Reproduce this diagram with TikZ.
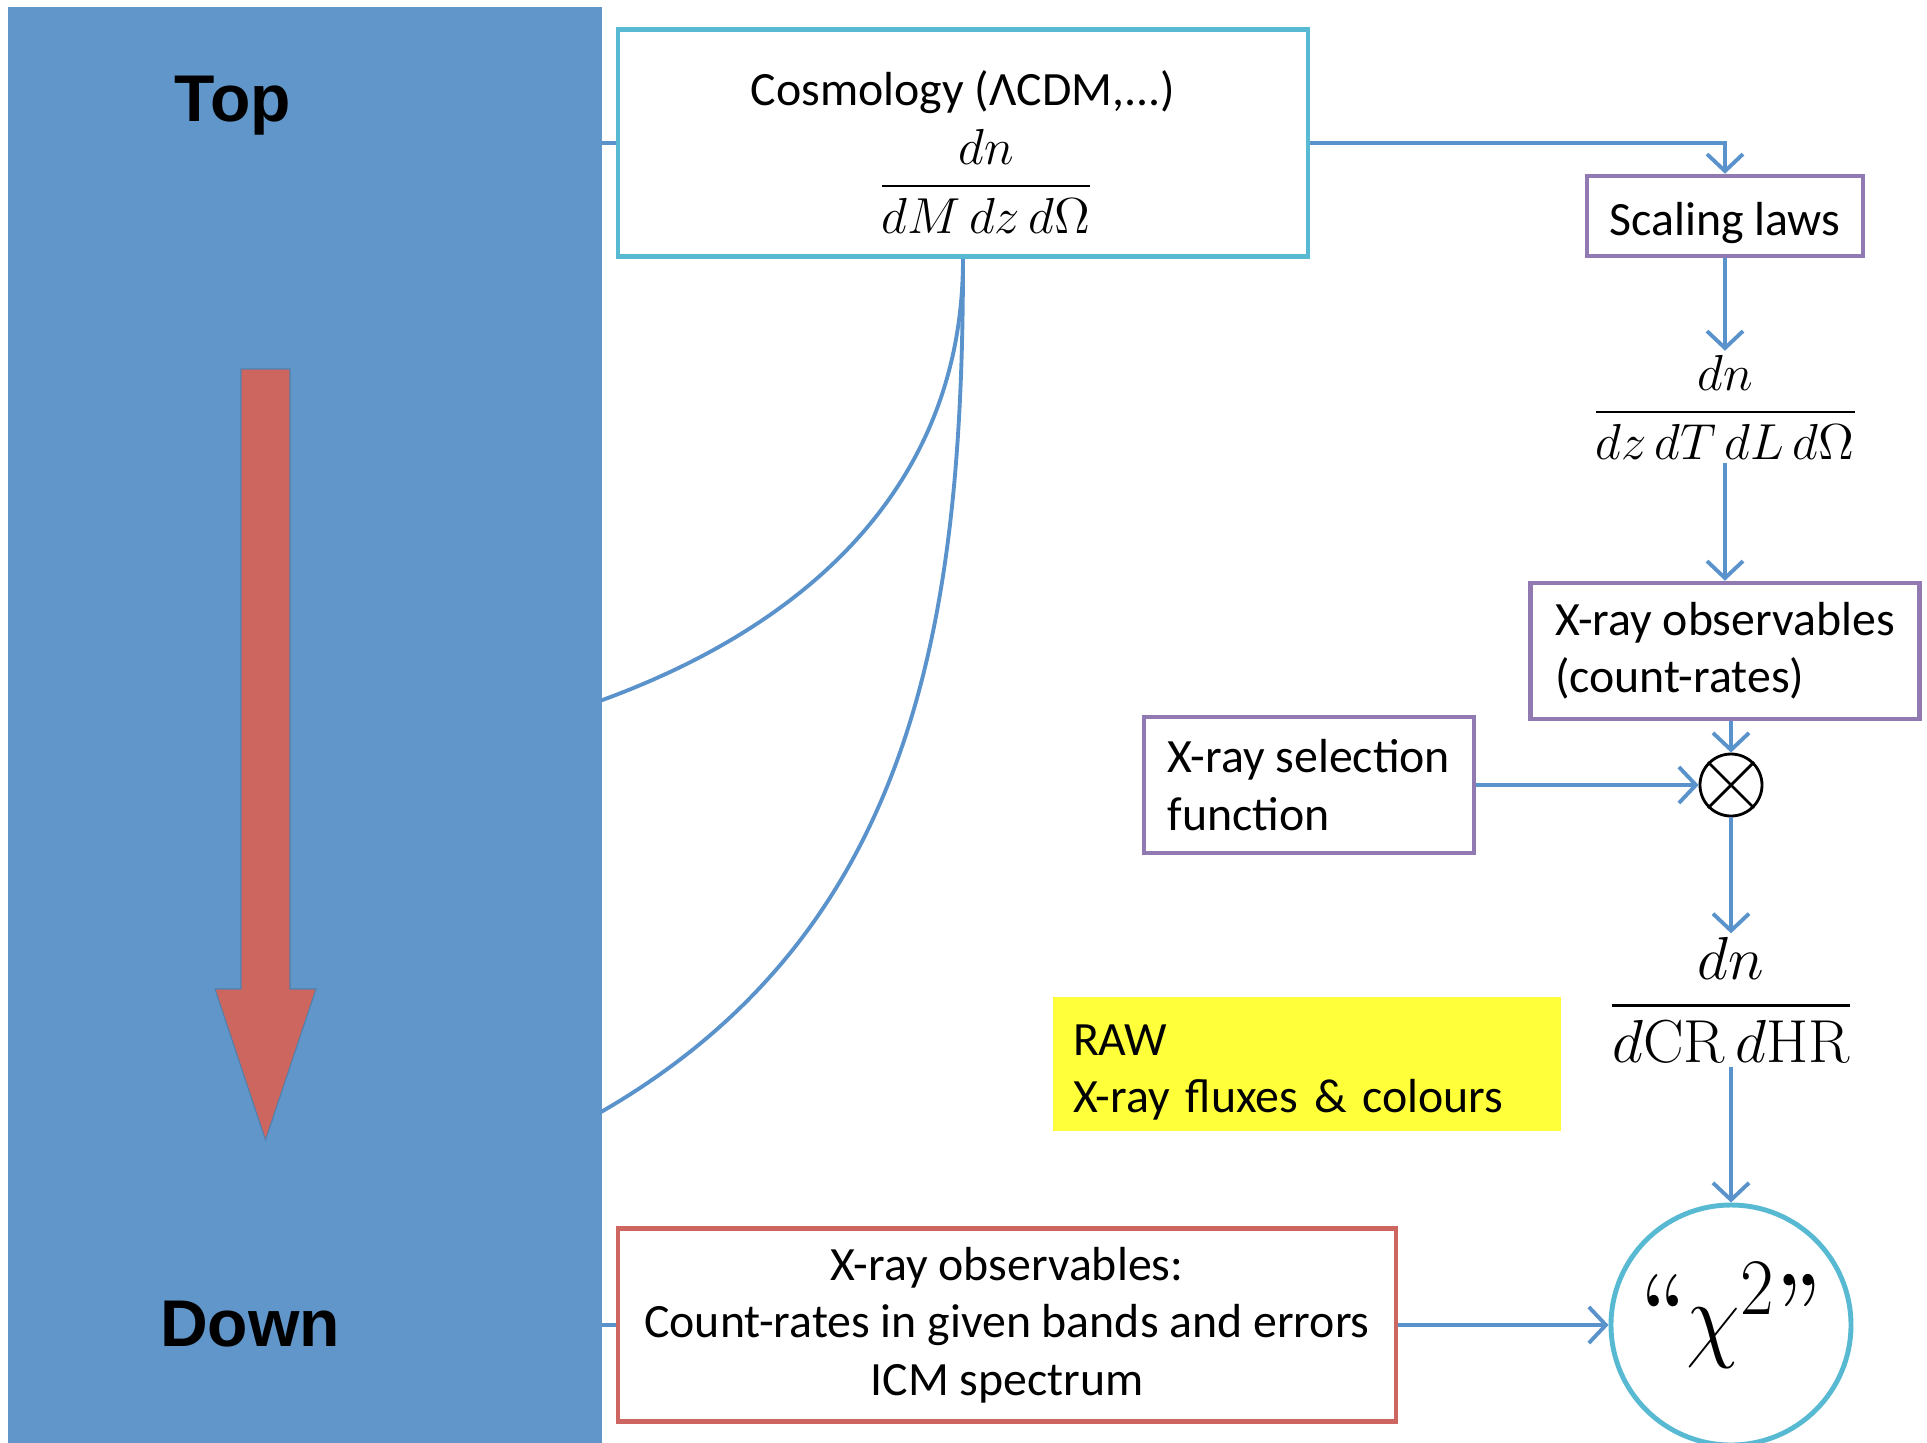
\documentclass[tikz,border=0pt]{standalone}
\usepackage[no-math]{fontspec}
\usepackage{amsmath}
\setmainfont{Carlito}
\newfontfamily\headfont{Liberation Sans}
\newfontfamily\lmquote{lmroman10-regular.otf}
\usetikzlibrary{positioning, arrows.meta, calc}

\definecolor{bandblue}{RGB}{96,150,201}
\definecolor{linkblue}{RGB}{90,146,204}
\definecolor{cosmocyan}{RGB}{88,185,210}
\definecolor{boxpurple}{RGB}{145,121,177}
\definecolor{obsred}{RGB}{205,101,96}
\definecolor{arrowred}{RGB}{204,102,95}
\definecolor{rawyellow}{RGB}{255,255,58}

\begin{document}
\begin{tikzpicture}[
    link/.style={draw=linkblue, line width=1.1pt},
    arr/.style={link, -{Straight Barb[length=1.7mm, width=3.6mm]}},
    box/.style={draw, line width=1.3pt, inner sep=0pt, font=\fontsize{13.6}{16.3}\selectfont,
      execute at begin node={\rule{0pt}{13.4pt}}},
    head/.style={font=\headfont\bfseries\fontsize{18.8}{22}\selectfont, inner sep=0pt},
    mathlbl/.style={inner sep=1pt}]
      \useasboundingbox (0,0) rectangle (19.27,-14.42);

      % top-down band
      \node[fill=bandblue, minimum width=5.94cm, minimum height=14.36cm, inner sep=0pt, anchor=north west] (band) at (0.07,-0.06) {};
      \node[head] (top) at (2.33,-1.06) {Top};
      \node[head] (down) at (2.50,-13.24) {Down};
      \filldraw[fill=arrowred, draw=bandblue!85!black, line width=0.3pt]
        (2.41,-3.69) -- (2.90,-3.69) -- (2.90,-9.89) -- (3.16,-9.89)
        -- (2.655,-11.40) -- (2.15,-9.89) -- (2.41,-9.89) -- cycle;

      % model side
      \node[box, draw=cosmocyan, minimum width=6.90cm, minimum height=2.27cm, align=center] (cosmo) at (9.63,-1.43)
        {\rule{0pt}{15pt}Cosmology (ΛCDM,...)\\[3.5pt]
         \hspace*{0.46cm}{\fontsize{14.2}{17}\selectfont$\displaystyle\frac{dn}{dM\,dz\,d\Omega}$}};
      \node[box, draw=boxpurple, minimum width=2.76cm, minimum height=0.80cm] (scaling) at (17.25,-2.16) {Scaling laws};
      \node[mathlbl, font=\fontsize{14.3}{17}\selectfont] (dnTL) at (17.25,-4.07)
        {$\displaystyle\frac{dn}{dz\,dT\,dL\,d\Omega}$};
      \node[box, draw=boxpurple, minimum width=3.89cm, minimum height=1.36cm, align=left] (xobs) at (17.25,-6.51)
        {X-ray observables\\(count-rates)};
      \node[box, draw=boxpurple, minimum width=3.30cm, minimum height=1.36cm, align=left] (sel) at (13.09,-7.85)
        {X-ray selection\\function};
      \node[draw, circle, minimum size=0.62cm, inner sep=0pt, line width=0.8pt] (mul) at (17.31,-7.85) {};
      \draw[line width=0.8pt] (mul.north west) -- (mul.south east) (mul.north east) -- (mul.south west);
      \node[mathlbl, font=\fontsize{18.3}{21}\selectfont] (dnCR) at (17.31,-10.0)
        {$\displaystyle\frac{dn}{d\mathrm{CR}\,d\mathrm{HR}}$};

      % data side
      \node[fill=rawyellow, minimum width=5.08cm, minimum height=1.34cm, text width=4.68cm, inner xsep=0.2cm, inner ysep=0pt,
        align=left, font=\fontsize{13.6}{16.3}\selectfont] (raw) at (13.07,-10.64) {\rule{0pt}{13.4pt}RAW\\X-ray fluxes \& colours};
      \node[box, draw=obsred, minimum width=7.78cm, minimum height=1.93cm, align=center] (obs) at (10.07,-13.25)
        {X-ray observables:\\Count-rates in given bands and errors\\ICM spectrum};
      \node[draw=cosmocyan, circle, line width=1.4pt, minimum size=2.40cm, inner sep=0pt, text height=20pt, text depth=6pt,
        font=\fontsize{28}{30}\selectfont] (chi) at (17.31,-13.25)
        {\scalebox{1}[1.1]{{\lmquote “}$\chi^2${\lmquote ”}}};

      % connectors
      \draw[link] (band.east |- cosmo.west) -- (cosmo.west);
      \draw[arr] (cosmo.east) -| (scaling.north);
      \draw[arr] (scaling.south) -- (dnTL.north);
      \draw[arr] (dnTL.south) -- (xobs.north);
      \draw[arr] (xobs.south -| mul.north) -- (mul.north);
      \draw[arr] (sel.east) -- (mul.west);
      \draw[arr] (mul.south) -- (dnCR.north);
      \draw[arr] (dnCR.south) -- (chi.north);
      \draw[link] (band.east |- obs.west) -- (obs.west);
      \draw[arr] (obs.east) -- (chi.west);

      % curves into the band
      \coordinate (c_mid) at (6.01,-7.005);
      \coordinate (c_low) at (6.01,-11.12);
      \draw[link] (cosmo.south) to[out=-90, in=20] (c_mid);
      \draw[link] (cosmo.south) to[out=-90, in=30] (c_low);

    \end{tikzpicture}
\end{document}
